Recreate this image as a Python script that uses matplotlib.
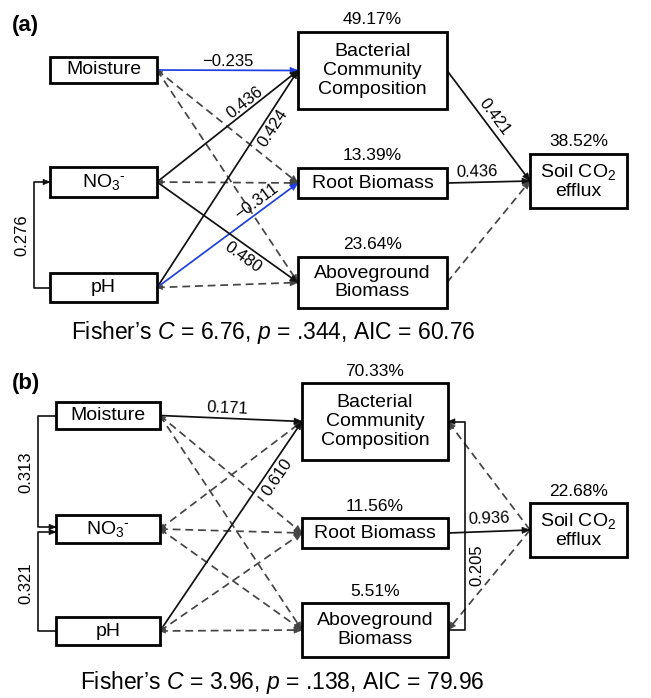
import matplotlib
matplotlib.use('Agg')
import matplotlib.pyplot as plt
from matplotlib.patches import Rectangle, Polygon
import numpy as np

plt.rcParams['font.family'] = ['Liberation Sans', 'DejaVu Sans']
plt.rcParams['mathtext.fontset'] = 'custom'
plt.rcParams['mathtext.rm'] = 'Liberation Sans'
plt.rcParams['mathtext.it'] = 'Liberation Sans:italic'
plt.rcParams['mathtext.default'] = 'regular'

# ---------------- data ----------------
node_keys = ['Moisture', 'NO3', 'pH', 'BCC', 'Root', 'Above', 'Soil']
node_labels = ['Moisture', 'NO$_3$$^{\\text{-}}$', 'pH',
               'Bacterial\nCommunity\nComposition', 'Root Biomass',
               'Aboveground\nBiomass', 'Soil CO$_2$\nefflux']

r2_keys = ['BCC', 'Root', 'Above', 'Soil']
r2_a = ['49.17%', '13.39%', '23.64%', '38.52%']
r2_b = ['70.33%', '11.56%', '5.51%', '22.68%']

# significant paths: (from, to, coefficient)
paths_a = [('Moisture', 'BCC', -0.235), ('NO3', 'BCC', 0.436), ('pH', 'BCC', 0.424),
           ('pH', 'Root', -0.311), ('NO3', 'Above', 0.480),
           ('BCC', 'Soil', 0.421), ('Root', 'Soil', 0.436)]
paths_b = [('Moisture', 'BCC', 0.171), ('pH', 'BCC', 0.610), ('Root', 'Soil', 0.936)]

# non-significant paths
ns_a = [('Moisture', 'Root'), ('Moisture', 'Above'), ('NO3', 'Root'), ('pH', 'Above')]
ns_a_right = [('Above', 'Soil')]
ns_b = [('Moisture', 'Root'), ('Moisture', 'Above'), ('NO3', 'BCC'), ('NO3', 'Root'),
        ('NO3', 'Above'), ('pH', 'Root'), ('pH', 'Above')]
ns_b_right = [('Soil', 'BCC'), ('Soil', 'Above')]

# correlations
corr_a = [('pH', 'NO3', 0.276)]
corr_b = [('Moisture', 'NO3', 0.313), ('pH', 'NO3', 0.321), ('Above', 'BCC', 0.205)]

fit_a = ('6.76', '.344', '60.76')
fit_b = ('3.96', '.138', '79.96')

# ---------------- layout ----------------
boxes_a = {'Moisture': (50, 57, 157, 83), 'NO3': (50, 167, 157, 197), 'pH': (50, 273, 157, 302),
           'BCC': (298, 32, 447, 109), 'Root': (298, 168, 447, 198),
           'Above': (298, 257, 447, 308), 'Soil': (530, 154, 627, 208)}
boxes_b = {'Moisture': (56, 402, 160, 429), 'NO3': (56, 515, 160, 543), 'pH': (56, 617, 160, 645),
           'BCC': (302, 383, 448, 460), 'Root': (302, 518, 448, 548),
           'Above': (302, 603, 448, 657), 'Soil': (530, 503, 627, 557)}

# label placement: (t along line, perpendicular offset px)
lab_a = {('Moisture', 'BCC'): (0.5, 9), ('NO3', 'BCC'): (0.655, 8), ('pH', 'BCC'): (0.76, -10),
         ('pH', 'Root'): (0.75, 10), ('NO3', 'Above'): (0.656, -12),
         ('BCC', 'Soil'): (0.475, 9.5), ('Root', 'Soil'): (0.37, 10)}
lab_b = {('Moisture', 'BCC'): (0.47, 10), ('pH', 'BCC'): (0.765, -11), ('Root', 'Soil'): (0.51, 13)}

SOLID = '#111111'
BLUE = '#1f3fe0'
GRAY = '#454545'

fig = plt.figure(figsize=(6.51, 6.98), dpi=100)
ax = fig.add_axes([0, 0, 1, 1])
ax.set_xlim(0, 651)
ax.set_ylim(698, 0)
ax.axis('off')


def right(b):
    return np.array([b[2], (b[1] + b[3]) / 2])


def left(b):
    return np.array([b[0], (b[1] + b[3]) / 2])


def head(p_from, p_to, color, length=8.0, half=3.2):
    p_from = np.asarray(p_from, float)
    p_to = np.asarray(p_to, float)
    d = p_to - p_from
    d = d / np.hypot(*d)
    n = np.array([-d[1], d[0]])
    base = p_to - d * length
    tri = Polygon([p_to, base + n * half, base - n * half], closed=True,
                  facecolor=color, edgecolor=color, lw=0.4, zorder=4)
    ax.add_patch(tri)


def line(p1, p2, color, dashed=False, lw=1.25):
    kw = dict(color=color, lw=lw, zorder=3, solid_capstyle='butt')
    if dashed:
        kw['dashes'] = (4.5, 2.8)
    ax.plot([p1[0], p2[0]], [p1[1], p2[1]], **kw)


def fmt(v):
    return f'{v:.3f}'.replace('-', '\u2212')


def edge_label(p1, p2, text, t, off):
    p1 = np.asarray(p1, float)
    p2 = np.asarray(p2, float)
    d = p2 - p1
    L = np.hypot(*d)
    du = d / L
    n = np.array([du[1], -du[0]])
    pos = p1 + d * t + n * off
    ang = np.degrees(np.arctan2(-d[1], d[0]))
    ax.text(pos[0], pos[1], text, fontsize=12, rotation=ang, rotation_mode='anchor',
            ha='center', va='center', zorder=5)


def draw_panel(boxes, paths, labs, ns_left, ns_right, corrs, r2, fit, tag, tag_y,
               pct_gap, fit_pos, corr_x):
    # boxes
    for key, lab in zip(node_keys, node_labels):
        x0, y0, x1, y1 = boxes[key]
        ax.add_patch(Rectangle((x0, y0), x1 - x0, y1 - y0, facecolor='white',
                               edgecolor='black', lw=2.0, zorder=6))
        ax.text((x0 + x1) / 2, (y0 + y1) / 2, lab, fontsize=14, ha='center', va='center',
                linespacing=1.15, zorder=7)
    # R2
    for key, val in zip(r2_keys, r2):
        x0, y0, x1, y1 = boxes[key]
        ax.text((x0 + x1) / 2, y0 - pct_gap, val, fontsize=12.5, ha='center',
                va='baseline', zorder=7)
    # non-significant, left block (double headed)
    for a, b in ns_left:
        p1, p2 = right(boxes[a]), left(boxes[b])
        line(p1, p2, GRAY, dashed=True)
        head(p1, p2, GRAY)
        head(p2, p1, GRAY, length=5.5, half=2.3)
    for a, b in ns_right:
        if a == 'Soil':
            p1, p2 = left(boxes[a]), right(boxes[b])
        else:
            p1, p2 = right(boxes[a]), left(boxes[b])
        line(p1, p2, GRAY, dashed=True)
        head(p1, p2, GRAY)
    # significant
    for a, b, v in paths:
        p1, p2 = right(boxes[a]), left(boxes[b])
        c = BLUE if v < 0 else SOLID
        line(p1, p2, c)
        head(p1, p2, c)
        t, off = labs[(a, b)]
        edge_label(p1, p2, fmt(v), t, off)
    # correlations (brackets)
    for (a, b, v), (cx, ay, by, lx, ly) in zip(corrs, corr_x):
        if b == 'BCC':
            p1 = np.array([boxes[a][2], ay])
            p2 = np.array([boxes[b][2], by])
        else:
            p1 = np.array([boxes[a][0], ay])
            p2 = np.array([boxes[b][0], by])
        ax.plot([p1[0], cx, cx, p2[0]], [p1[1], p1[1], p2[1], p2[1]],
                color=SOLID, lw=1.2, zorder=3)
        head((cx, p2[1]), p2, SOLID, length=7, half=2.8)
        ax.text(lx, ly, f'{v:.3f}', fontsize=12, rotation=90, ha='center', va='center')
    # tag and fit
    ax.text(12, tag_y, tag, fontsize=16, fontweight='bold', ha='left', va='center')
    ax.text(fit_pos[0], fit_pos[1],
            f'Fisher\u2019s $\\mathit{{C}}$ = {fit[0]}, $\\mathit{{p}}$ = {fit[1]}, AIC = {fit[2]}',
            fontsize=16.5, ha='center', va='center')


draw_panel(boxes_a, paths_a, lab_a, ns_a, ns_a_right, corr_a, r2_a, fit_a, '(a)', 25,
           8, (273, 333),
           [(34, 287.5, 182, 22, 235)])
draw_panel(boxes_b, paths_b, lab_b, ns_b, ns_b_right, corr_b, r2_b, fit_b, '(b)', 383,
           7, (282, 682),
           [(38, 415.5, 527, 26, 472), (38, 631, 532, 26, 583), (465, 630, 421.5, 477, 565)])

fig.savefig('out.png', dpi=100)
